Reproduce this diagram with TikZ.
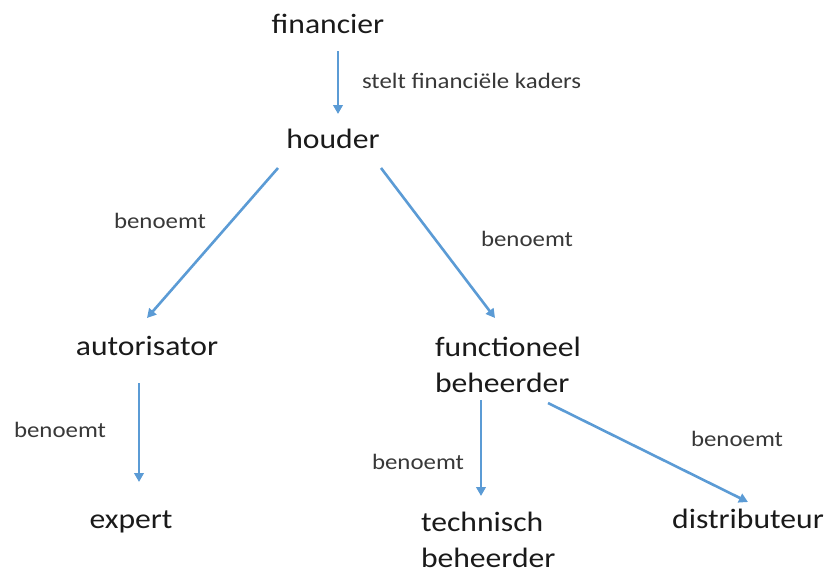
\documentclass[tikz,border=0pt]{standalone}
\usepackage{fontspec}
\setmainfont{Carlito}[FakeStretch=1.13]
\usetikzlibrary{arrows.meta}
\definecolor{arrowblue}{HTML}{5B9BD5}
\definecolor{maintext}{HTML}{1A1A1A}
\definecolor{labeltext}{HTML}{383838}
\tikzset{
  role/.style={inner sep=0pt, outer sep=0pt, text=maintext, font=\fontsize{28}{36}\selectfont},
  rel/.style={inner sep=0pt, outer sep=0pt, text=labeltext, font=\fontsize{22}{26}\selectfont},
  arr/.style={draw=arrowblue, line width=2.6pt, -{Triangle[length=9pt,width=9.5pt]}}
}
\begin{document}
\begin{tikzpicture}[x=1pt,y=-1pt]
\useasboundingbox (0,0) rectangle (830,574);
% roles
\node[role, anchor=base] (fin) at (328,33) {financier};
\node[role, anchor=base] (houder) at (333,148) {houder};
\node[role, anchor=base] (aut) at (147,355) {autorisator};
\node[role, anchor=north west, align=left] (func) at (435,337) {functioneel\\beheerder};
\node[role, anchor=base] (exp) at (131,528) {expert};
\node[role, anchor=north west, align=left] (tech) at (421,512) {technisch\\beheerder};
\node[role, anchor=base] (dist) at (748,528) {distributeur};
% relation labels
\node[rel, anchor=base west] (l1) at (362,88) {stelt financiële kaders};
\node[rel, anchor=base] (l2) at (160,228) {benoemt};
\node[rel, anchor=base] (l3) at (527,246) {benoemt};
\node[rel, anchor=base] (l4) at (60,437) {benoemt};
\node[rel, anchor=base] (l5) at (418,469) {benoemt};
\node[rel, anchor=base] (l6) at (737,446) {benoemt};
% connectors
\draw[arr] ([shift={(10,18)}]fin.base) -- ([shift={(5,-34)}]houder.base);
\draw[arr] ([shift={(-55,20)}]houder.base) -- ([shift={(0,-37)}]aut.base);
\draw[arr] ([shift={(48,20)}]houder.base) -- ([shift={(60,-19)}]func.north west);
\draw[arr] ([shift={(-8,28)}]aut.base) -- ([shift={(8,-46)}]exp.base);
\draw[arr] ([shift={(46,63)}]func.north west) -- ([shift={(60,-16)}]tech.north west);
\draw[arr] ([shift={(113,66)}]func.north west) -- ([shift={(0,-26)}]dist.base);
\end{tikzpicture}
\end{document}
